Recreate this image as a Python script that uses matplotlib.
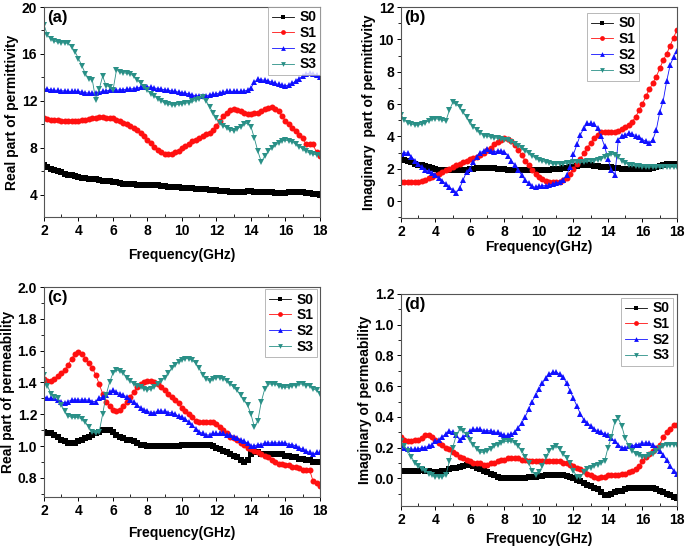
"""
    Permittivity / permeability spectra of S0-S3
"""

import numpy as np
import matplotlib
matplotlib.use('Agg')
import matplotlib.pyplot as plt
from matplotlib.ticker import MultipleLocator

plt.rcParams['font.family'] = ['Liberation Sans', 'DejaVu Sans']
plt.rcParams['font.weight'] = 'bold'
plt.rcParams['axes.labelweight'] = 'bold'

# Frequency grid [GHz]
freq = np.round(np.arange(2.0, 18.01, 0.2), 1)

samples = ['S0', 'S1', 'S2', 'S3']

# (a) real part of permittivity
eps_re_s0 = [6.5, 6.35, 6.2, 6.1, 6.0, 5.9, 5.8, 5.7, 5.65, 5.6,
             5.5, 5.45, 5.4, 5.35, 5.3, 5.3, 5.25, 5.2, 5.2, 5.15,
             5.1, 5.05, 5.0, 4.95, 4.9, 4.9, 4.9, 4.85, 4.85, 4.85,
             4.8, 4.8, 4.8, 4.8, 4.75, 4.75, 4.7, 4.7, 4.7, 4.65,
             4.6, 4.6, 4.55, 4.55, 4.5, 4.5, 4.45, 4.45, 4.4, 4.4,
             4.4, 4.35, 4.35, 4.3, 4.25, 4.2, 4.2, 4.25, 4.25, 4.3,
             4.3, 4.25, 4.25, 4.25, 4.2, 4.2, 4.2, 4.15, 4.15, 4.15,
             4.15, 4.2, 4.2, 4.2, 4.2, 4.2, 4.15, 4.15, 4.1, 4.05,
             4.0]
eps_re_s1 = [10.5, 10.45, 10.4, 10.35, 10.35, 10.3, 10.25, 10.25, 10.25, 10.3,
             10.3, 10.35, 10.4, 10.45, 10.5, 10.55, 10.6, 10.6, 10.55, 10.55,
             10.5, 10.4, 10.3, 10.15, 10.0, 9.85, 9.7, 9.5, 9.3, 9.0,
             8.7, 8.4, 8.1, 7.85, 7.65, 7.5, 7.45, 7.5, 7.6, 7.75,
             7.95, 8.15, 8.35, 8.55, 8.7, 8.85, 9.0, 9.15, 9.3, 9.5,
             9.9, 10.3, 10.7, 11.0, 11.25, 11.3, 11.25, 11.15, 11.0, 10.9,
             10.9, 10.95, 11.0, 11.15, 11.3, 11.4, 11.45, 11.35, 11.1, 10.7,
             10.3, 10.0, 9.7, 9.4, 9.1, 8.8, 8.3, 8.3, 8.3, 7.6,
             7.3]
eps_re_s2 = [13.0, 13.0, 12.95, 12.9, 12.9, 12.85, 12.85, 12.8, 12.8, 12.8,
             12.8, 12.75, 12.7, 12.65, 12.65, 12.7, 12.75, 12.8, 12.85, 12.9,
             12.9, 12.9, 12.95, 12.95, 13.0, 13.0, 13.05, 13.1, 13.15, 13.2,
             13.2, 13.15, 13.1, 13.05, 13.0, 12.95, 12.9, 12.85, 12.8, 12.75,
             12.7, 12.65, 12.6, 12.5, 12.45, 12.4, 12.4, 12.45, 12.5, 12.55,
             12.6, 12.7, 12.75, 12.8, 12.8, 12.8, 12.8, 12.8, 12.85, 12.9,
             13.1, 13.6, 13.85, 13.8, 13.75, 13.7, 13.6, 13.5, 13.4, 13.35,
             13.3, 13.35, 13.5, 13.7, 13.9, 14.1, 14.3, 14.35, 14.3, 14.2,
             14.05]
eps_re_s3 = [18.5, 17.6, 17.3, 17.1, 17.0, 16.95, 16.95, 16.9, 16.6, 16.2,
             15.6, 15.0, 14.3, 13.9, 13.8, 12.1, 13.0, 14.1, 13.3, 13.2,
             12.9, 14.6, 14.5, 14.4, 14.35, 14.3, 14.1, 13.8, 13.5, 13.2,
             12.9, 12.6, 12.4, 12.2, 12.0, 11.8, 11.7, 11.65, 11.65, 11.7,
             11.75, 11.8, 11.85, 11.95, 12.05, 12.2, 12.3, 12.0, 11.5, 11.0,
             10.5, 10.1, 9.9, 9.7, 9.5, 9.45, 9.6, 9.8, 10.0, 10.1,
             9.8, 8.8, 7.7, 6.8, 7.3, 7.7, 8.0, 8.2, 8.4, 8.6,
             8.65, 8.6, 8.5, 8.3, 8.1, 7.9, 7.7, 7.55, 7.45, 7.4,
             7.4]

# (b) imaginary part of permittivity
eps_im_s0 = [2.65, 2.55, 2.45, 2.4, 2.3, 2.25, 2.2, 2.15, 2.1, 2.05,
             2.0, 1.95, 1.95, 1.9, 1.9, 1.9, 1.9, 1.9, 1.95, 1.95,
             2.0, 2.0, 2.05, 2.05, 2.05, 2.05, 2.05, 2.05, 2.0, 2.0,
             2.0, 1.95, 1.95, 1.95, 1.9, 1.9, 1.9, 1.9, 1.9, 1.9,
             1.9, 1.9, 1.95, 1.95, 2.0, 2.0, 2.0, 2.05, 2.05, 2.1,
             2.1, 2.15, 2.2, 2.2, 2.2, 2.2, 2.15, 2.15, 2.1, 2.1,
             2.1, 2.1, 2.05, 2.05, 2.0, 2.0, 2.0, 2.0, 2.0, 2.0,
             2.0, 2.0, 2.0, 2.05, 2.1, 2.15, 2.2, 2.3, 2.3, 2.3,
             2.3]
eps_im_s1 = [1.15, 1.15, 1.15, 1.15, 1.2, 1.2, 1.25, 1.3, 1.4, 1.5,
             1.6, 1.7, 1.8, 1.9, 2.0, 2.1, 2.2, 2.3, 2.4, 2.5,
             2.6, 2.65, 2.75, 2.85, 3.0, 3.15, 3.3, 3.5, 3.65, 3.8,
             3.9, 3.85, 3.7, 3.45, 3.15, 2.85, 2.5, 2.2, 1.95, 1.7,
             1.5, 1.35, 1.25, 1.2, 1.15, 1.15, 1.2, 1.3, 1.45, 1.7,
             2.0, 2.3, 2.6, 2.95, 3.3, 3.6, 3.9, 4.1, 4.25, 4.3,
             4.25, 4.25, 4.3, 4.35, 4.45, 4.55, 4.7, 4.9, 5.2, 5.6,
             6.0, 6.5, 6.9, 7.3, 7.7, 8.2, 8.7, 9.1, 9.6, 10.1,
             10.6]
eps_im_s2 = [2.9, 3.0, 2.95, 2.75, 2.5, 2.3, 2.1, 1.95, 1.85, 1.75,
             1.6, 1.45, 1.25, 1.05, 0.85, 0.7, 0.5, 0.8, 1.3, 1.8,
             2.0, 2.4, 2.75, 3.0, 3.1, 3.2, 3.1, 3.05, 3.1, 3.1,
             3.05, 2.8, 2.5, 2.2, 1.9, 1.6, 1.3, 1.1, 0.9, 0.85,
             0.9, 0.95, 0.95, 1.0, 1.05, 1.1, 1.2, 1.3, 1.6, 2.1,
             2.9, 3.5, 4.1, 4.5, 4.8, 4.8, 4.75, 4.5, 4.0, 3.4,
             2.6, 1.9, 1.6, 3.8, 4.0, 4.1, 4.2, 4.15, 4.05, 3.95,
             3.8, 3.7, 3.6, 3.8, 4.4, 5.5, 6.2, 7.4, 8.4, 8.9,
             9.3]
eps_im_s3 = [5.35, 5.0, 4.85, 4.75, 4.7, 4.7, 4.75, 4.85, 4.95, 5.05,
             5.1, 5.05, 5.0, 4.95, 5.6, 6.1, 6.0, 5.8, 5.5, 5.2,
             4.9, 4.6, 4.4, 4.2, 4.05, 4.0, 3.95, 3.9, 3.9, 3.85,
             3.8, 3.75, 3.65, 3.55, 3.4, 3.25, 3.1, 2.95, 2.8, 2.65,
             2.55, 2.45, 2.4, 2.35, 2.3, 2.3, 2.3, 2.3, 2.35, 2.35,
             2.4, 2.4, 2.4, 2.4, 2.45, 2.45, 2.5, 2.55, 2.6, 2.7,
             2.8, 2.9, 2.85, 2.7, 2.5, 2.35, 2.25, 2.2, 2.15, 2.15,
             2.1, 2.1, 2.1, 2.1, 2.1, 2.1, 2.1, 2.1, 2.1, 2.1,
             2.1]

# (c) real part of permeability
mu_re_s0 = [1.09, 1.08, 1.08, 1.07, 1.06, 1.04, 1.03, 1.02, 1.02, 1.02,
            1.03, 1.04, 1.05, 1.06, 1.07, 1.08, 1.09, 1.10, 1.10, 1.10,
            1.09, 1.07, 1.06, 1.05, 1.04, 1.04, 1.03, 1.02, 1.01, 1.01,
            1.0, 1.0, 1.0, 1.0, 1.0, 1.0, 1.0, 1.0, 1.0, 1.0,
            1.01, 1.01, 1.01, 1.01, 1.01, 1.01, 1.01, 1.01, 1.01, 1.0,
            0.99, 0.98, 0.97, 0.96, 0.95, 0.94, 0.93, 0.91, 0.90, 0.91,
            0.95, 0.96, 0.96, 0.95, 0.95, 0.95, 0.95, 0.95, 0.95, 0.95,
            0.94, 0.94, 0.93, 0.93, 0.92, 0.92, 0.91, 0.91, 0.90, 0.90,
            0.90]
mu_re_s1 = [1.42, 1.41, 1.41, 1.42, 1.44, 1.46, 1.48, 1.51, 1.55, 1.58,
            1.59, 1.58, 1.55, 1.52, 1.49, 1.45, 1.39, 1.33, 1.28, 1.25,
            1.23, 1.22, 1.23, 1.25, 1.28, 1.31, 1.34, 1.37, 1.39, 1.40,
            1.41, 1.41, 1.40, 1.39, 1.37, 1.35, 1.33, 1.31, 1.29, 1.27,
            1.24, 1.22, 1.20, 1.18, 1.16, 1.15, 1.15, 1.15, 1.15, 1.15,
            1.14, 1.12, 1.10, 1.08, 1.06, 1.05, 1.04, 1.02, 1.01, 0.99,
            0.98, 0.97, 0.96, 0.95, 0.94, 0.93, 0.91, 0.90, 0.89, 0.89,
            0.88, 0.88, 0.87, 0.87, 0.86, 0.85, 0.85, 0.85, 0.78, 0.77,
            0.75]
mu_re_s2 = [1.31, 1.30, 1.30, 1.30, 1.29, 1.28, 1.27, 1.28, 1.29, 1.29,
            1.29, 1.29, 1.29, 1.29, 1.28, 1.28, 1.30, 1.31, 1.32, 1.34,
            1.35, 1.34, 1.33, 1.32, 1.31, 1.29, 1.28, 1.26, 1.24, 1.23,
            1.22, 1.21, 1.21, 1.22, 1.22, 1.22, 1.21, 1.21, 1.20, 1.19,
            1.18, 1.17, 1.15, 1.13, 1.11, 1.09, 1.08, 1.07, 1.07, 1.08,
            1.08, 1.08, 1.08, 1.07, 1.07, 1.06, 1.05, 1.04, 1.03, 1.02,
            1.00, 1.00, 1.01, 1.01, 1.02, 1.02, 1.02, 1.02, 1.02, 1.02,
            1.02, 1.01, 1.01, 1.00, 0.99, 0.98, 0.97, 0.96, 0.95, 0.96,
            0.96]
mu_re_s3 = [1.45, 1.38, 1.33, 1.31, 1.30, 1.26, 1.22, 1.19, 1.18, 1.18,
            1.18, 1.17, 1.15, 1.12, 1.09, 1.08, 1.09, 1.20, 1.32, 1.40,
            1.46, 1.48, 1.47, 1.46, 1.43, 1.41, 1.39, 1.38, 1.37, 1.36,
            1.35, 1.36, 1.37, 1.39, 1.41, 1.43, 1.46, 1.49, 1.51, 1.53,
            1.54, 1.55, 1.55, 1.54, 1.52, 1.49, 1.45, 1.42, 1.41, 1.42,
            1.43, 1.43, 1.42, 1.41, 1.39, 1.37, 1.35, 1.32, 1.29, 1.26,
            1.20, 1.12, 1.16, 1.28, 1.36, 1.39, 1.39, 1.39, 1.38, 1.37,
            1.37, 1.37, 1.38, 1.38, 1.39, 1.39, 1.38, 1.38, 1.36, 1.35,
            1.33]

# (d) imaginary part of permeability
mu_im_s0 = [0.05, 0.05, 0.05, 0.05, 0.05, 0.05, 0.055, 0.05, 0.045, 0.04,
            0.04, 0.04, 0.045, 0.05, 0.06, 0.065, 0.07, 0.075, 0.08, 0.085,
            0.09, 0.08, 0.07, 0.06, 0.05, 0.04, 0.03, 0.02, 0.01, 0.005,
            0.0, 0.0, 0.0, 0.0, 0.0, 0.0, 0.005, 0.01, 0.01, 0.01,
            0.015, 0.015, 0.02, 0.02, 0.02, 0.02, 0.02, 0.02, 0.015, 0.01,
            0.0, -0.01, -0.02, -0.03, -0.04, -0.05, -0.06, -0.07, -0.09, -0.11,
            -0.11, -0.10, -0.09, -0.085, -0.08, -0.07, -0.065, -0.06, -0.06, -0.06,
            -0.06, -0.06, -0.06, -0.065, -0.07, -0.08, -0.09, -0.10, -0.11, -0.12,
            -0.13]
mu_im_s1 = [0.27, 0.25, 0.24, 0.24, 0.25, 0.25, 0.26, 0.28, 0.28, 0.27,
            0.25, 0.23, 0.22, 0.20, 0.19, 0.17, 0.16, 0.14, 0.13, 0.12,
            0.11, 0.10, 0.10, 0.10, 0.09, 0.09, 0.10, 0.10, 0.11, 0.12,
            0.12, 0.13, 0.13, 0.13, 0.13, 0.12, 0.12, 0.11, 0.11, 0.11,
            0.11, 0.11, 0.11, 0.11, 0.11, 0.11, 0.11, 0.10, 0.10, 0.09,
            0.08, 0.07, 0.06, 0.05, 0.03, 0.02, 0.01, 0.00, 0.01, 0.01,
            0.02, 0.02, 0.02, 0.02, 0.03, 0.03, 0.04, 0.05, 0.06, 0.08,
            0.11, 0.14, 0.16, 0.18, 0.20, 0.22, 0.27, 0.30, 0.32, 0.35,
            0.35]
mu_im_s2 = [0.22, 0.20, 0.19, 0.19, 0.19, 0.19, 0.20, 0.20, 0.21, 0.22,
            0.24, 0.25, 0.27, 0.29, 0.31, 0.30, 0.28, 0.25, 0.27, 0.29,
            0.31, 0.32, 0.32, 0.32, 0.31, 0.31, 0.31, 0.30, 0.30, 0.29,
            0.28, 0.28, 0.29, 0.30, 0.33, 0.36, 0.40, 0.45, 0.50, 0.54,
            0.58, 0.62, 0.65, 0.68, 0.69, 0.69, 0.68, 0.66, 0.62, 0.57,
            0.52, 0.47, 0.42, 0.38, 0.36, 0.34, 0.32, 0.31, 0.30, 0.29,
            0.28, 0.26, 0.24, 0.22, 0.20, 0.20, 0.21, 0.21, 0.22, 0.22,
            0.23, 0.23, 0.23, 0.22, 0.20, 0.18, 0.15, 0.12, 0.08, 0.05,
            0.03]
mu_im_s3 = [0.24, 0.21, 0.18, 0.14, 0.10, 0.08, 0.06, 0.05, 0.03, 0.02,
            0.01, 0.01, 0.01, 0.02, 0.11, 0.20, 0.28, 0.32, 0.31, 0.28,
            0.25, 0.22, 0.19, 0.17, 0.17, 0.18, 0.19, 0.21, 0.22, 0.23,
            0.24, 0.24, 0.24, 0.23, 0.21, 0.18, 0.14, 0.10, 0.05, 0.02,
            0.04, 0.08, 0.14, 0.18, 0.20, 0.21, 0.19, 0.16, 0.13, 0.10,
            0.05, 0.01, 0.01, 0.04, 0.06, 0.07, 0.08, 0.09, 0.10, 0.11,
            0.20, 0.27, 0.37, 0.39, 0.34, 0.26, 0.21, 0.18, 0.16, 0.15,
            0.14, 0.14, 0.15, 0.16, 0.18, 0.20, 0.21, 0.22, 0.22, 0.22,
            0.22]

colors = ['black', '#ff1010', '#1010ff', '#2a9087']
markers = ['s', 'o', '^', 'v']
msizes = [3.8, 4.3, 4.3, 4.3]

# Figure with four panels placed like the original
fig = plt.figure(figsize=(6.85, 5.49), dpi=100)

panels = [
    # position, data, ylabel, ylim, major step, tag, legend anchor, xlabel pad
    ([0.0642, 0.6047, 0.4029, 0.3825],
     [eps_re_s0, eps_re_s1, eps_re_s2, eps_re_s3],
     'Real part of permittivity', (2.1, 20), 4, '(a)', (1.0, 1.0), 7),
    ([0.5854, 0.6029, 0.4029, 0.3843],
     [eps_im_s0, eps_im_s1, eps_im_s2, eps_im_s3],
     'Imaginary  part of permittivity', (-1.05, 12), 2, '(b)', (0.862, 0.972), 0.7),
    ([0.0642, 0.0947, 0.4029, 0.3825],
     [mu_re_s0, mu_re_s1, mu_re_s2, mu_re_s3],
     'Real part of permeability', (0.68, 2.0), 0.2, '(c)', (0.989, 0.99), 6),
    ([0.5854, 0.0783, 0.4029, 0.3862],
     [mu_im_s0, mu_im_s1, mu_im_s2, mu_im_s3],
     'Imaginary of permeability', (-0.18, 1.2), 0.2, '(d)', (0.986, 0.981), 3.5),
]

for pos, series, ylabel, ylim, step, tag, anchor, xpad in panels:
    ax = fig.add_axes(pos)
    for y, name, c, m, ms in zip(series, samples, colors, markers, msizes):
        ax.plot(freq, y, color=c, marker=m, markersize=ms, lw=0.6,
                markeredgewidth=0, label=name)

    ax.set_xlim(2, 18)
    ax.set_ylim(*ylim)
    ax.xaxis.set_major_locator(MultipleLocator(2))
    ax.xaxis.set_minor_locator(MultipleLocator(1))
    ax.yaxis.set_major_locator(MultipleLocator(step))
    ax.yaxis.set_minor_locator(MultipleLocator(step / 2))
    if step < 1:
        ax.yaxis.set_major_formatter(plt.FormatStrFormatter('%.1f'))

    # Origin-like ticks: x major out / minor in, y all out
    ax.tick_params(axis='x', which='major', direction='out', length=3,
                   width=0.7, pad=2, labelsize=10)
    ax.tick_params(axis='x', which='minor', direction='in', length=2, width=0.6)
    ax.tick_params(axis='y', which='major', direction='out', length=3,
                   width=0.7, pad=2, labelsize=10)
    ax.tick_params(axis='y', which='minor', direction='out', length=2, width=0.6)
    for sp in ax.spines.values():
        sp.set_linewidth(0.8)
        sp.set_color('#555555')

    ax.set_xlabel('Frequency(GHz)', fontsize=10, labelpad=xpad)
    ax.set_ylabel(ylabel, fontsize=10, labelpad=2)
    ax.text(0.012, 0.985, tag, transform=ax.transAxes, fontsize=12,
            fontweight='bold', va='top', ha='left')

    leg = ax.legend(loc='upper right', bbox_to_anchor=anchor, fontsize=10,
                    frameon=True, fancybox=False, handlelength=1.6,
                    handletextpad=0.4, borderpad=0.25, labelspacing=0.12,
                    borderaxespad=0.0, markerscale=0.8)
    leg.get_frame().set_edgecolor('#999999')
    leg.get_frame().set_linewidth(0.6)

fig.savefig('out.png', dpi=100)
